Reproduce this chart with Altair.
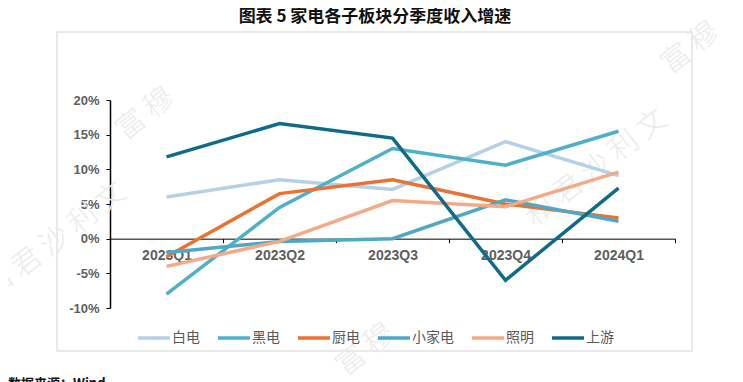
import altair as alt
import pandas as pd

quarters = ["2023Q1", "2023Q2", "2023Q3", "2023Q4", "2024Q1"]
series_names = ["白电", "黑电", "厨电", "小家电", "照明", "上游"]
bai_dian = [6.0, 8.5, 7.1, 14.0, 9.1]
hei_dian = [-8.0, 4.5, 13.0, 10.6, 15.5]
chu_dian = [-2.6, 6.5, 8.5, 5.0, 3.0]
xiao_jia_dian = [-2.0, -0.4, 0.0, 5.6, 2.5]
zhao_ming = [-4.0, -0.4, 5.5, 4.6, 9.6]
shang_you = [11.8, 16.6, 14.5, -6.0, 7.3]
series_colors = ["#b5d1e5", "#4eb0cb", "#e97132", "#4fa9c6", "#f4aa86", "#0f6b88"]
y_ticks = [-10, -5, 0, 5, 10, 15, 20]

title_text = "图表 5 家电各子板块分季度收入增速"
source_text = "数据来源：Wind"
wm_line1 = "富  穆"
wm_line2 = "和  君  沙  利  文"

all_values = [bai_dian, hei_dian, chu_dian, xiao_jia_dian, zhao_ming, shang_you]
rows = []
for name, vals in zip(series_names, all_values):
    for q, v in zip(quarters, vals):
        rows.append({"季度": q, "系列": name, "增速": v})
df = pd.DataFrame(rows)

W, H = 565, 208
LAB_FONT = "Liberation Sans"
CJK_FONT = "Noto Sans CJK SC"

lines = alt.Chart(df).mark_line(strokeWidth=3.5).encode(
    x=alt.X(
        "季度:N",
        sort=quarters,
        bandPosition=0.5,
        scale=alt.Scale(type="band", domain=quarters, paddingInner=0, paddingOuter=0),
        axis=alt.Axis(
            title=None, offset=-H / 3, tickBand="extent", tickSize=4,
            tickColor="black", domainColor="black", domainWidth=1, tickWidth=1,
            labelAngle=0, labelFont=LAB_FONT, labelFontSize=14, labelFontWeight="bold",
            labelColor="#5f5f5f", labelPadding=6, grid=False,
        ),
    ),
    y=alt.Y(
        "增速:Q",
        scale=alt.Scale(domain=[-10, 20], nice=False, zero=False),
        axis=alt.Axis(
            values=y_ticks, labelExpr="datum.value + '%'", title=None,
            tickSize=4, tickColor="black", domainColor="black", domainWidth=1.5,
            labelFont=LAB_FONT, labelFontSize=13, labelFontWeight="bold",
            labelColor="#5f5f5f", labelPadding=7, grid=False,
        ),
    ),
    color=alt.Color(
        "系列:N",
        sort=series_names,
        scale=alt.Scale(domain=series_names, range=series_colors),
        legend=alt.Legend(
            title=None, orient="none", legendX=26, legendY=220, direction="horizontal",
            symbolType="stroke", symbolSize=1024, symbolStrokeWidth=3.5,
            labelFont=CJK_FONT, labelFontSize=14, labelColor="#595959",
            labelOffset=0, columnPadding=11,
        ),
    ),
)

one = alt.Data(values=[{"k": 1}])

frame = alt.Chart(one).mark_rect(fillOpacity=0, stroke="#e2e2e2", strokeWidth=1.5).encode(
    x=alt.value(-53), x2=alt.value(582), y=alt.value(-68), y2=alt.value(251)
)


def watermark(text, cx, cy):
    return alt.Chart(one).mark_text(
        text=text, font=CJK_FONT, fontSize=29, fontWeight=300, color="#ebebeb", angle=322,
        align="center", baseline="middle",
    ).encode(x=alt.value(cx), y=alt.value(cy))


marks = [
    watermark(wm_line2, 486, 68),
    watermark(wm_line1, 580, -52),
    watermark(wm_line2, -55, 141),
    watermark(wm_line1, 35, 14),
    watermark(wm_line1, 255, 250),
]

title = alt.Chart(one).mark_text(
    text=title_text, font=CJK_FONT, fontSize=17, fontWeight="bold", color="#111111",
    baseline="top", align="center",
).encode(x=alt.value(265), y=alt.value(-91))

source = alt.Chart(one).mark_text(
    text=source_text, font=CJK_FONT, fontSize=13, fontWeight="bold", color="#111111",
    baseline="top", align="left",
).encode(x=alt.value(-102), y=alt.value(278))

chart = alt.layer(frame, *marks, lines, title, source).properties(
    width=W, height=H,
    autosize=alt.AutoSizeParams(type="none"),
    padding={"left": 102, "top": 92, "right": 60, "bottom": 74},
    background="white",
).configure_view(stroke=None)

chart.save("out.html", embed_options={"renderer": "svg", "actions": False})
